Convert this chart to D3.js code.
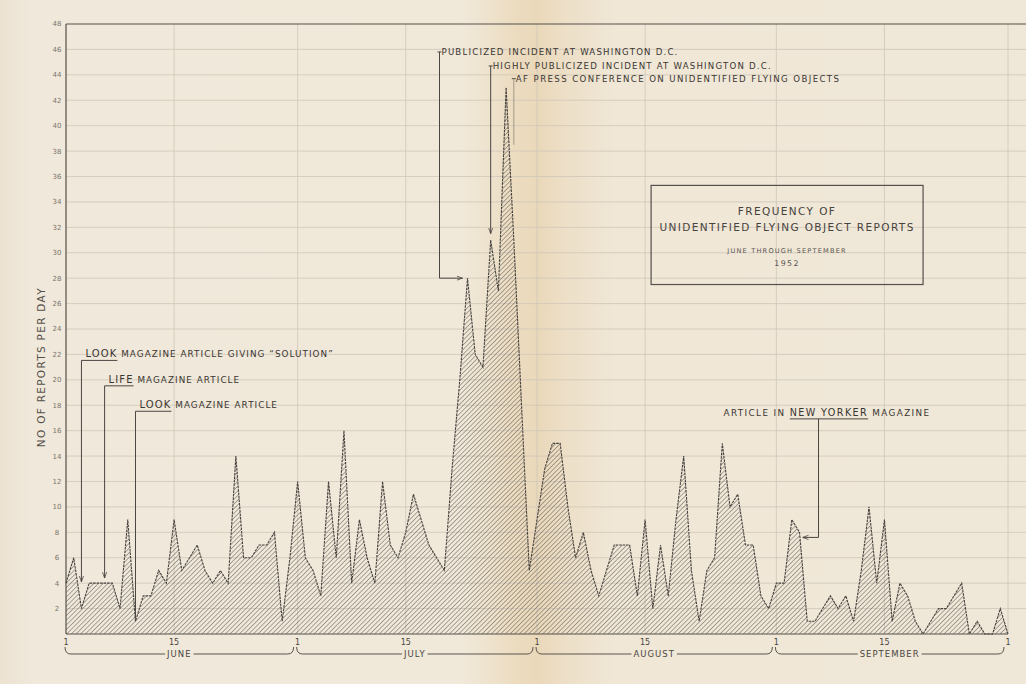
<!DOCTYPE html>
<html>
<head>
<meta charset="utf-8">
<script src="https://cdn.jsdelivr.net/npm/d3@7"></script>
<style>
  html, body { margin: 0; padding: 0; background: #efe6d6; }
  svg { display: block; }
  text { font-family: "DejaVu Sans", "Liberation Sans", sans-serif; fill: #3a3632; }
</style>
</head>
<body>
<svg id="chart" width="1026" height="684"></svg>
<script>
// ---------------- DATA (reports per day, 1952) ----------------
const juneCounts      = [4,6,2,4,4,4,4,2,9,1,3,3,5,4,9,5,6,7,5,4,5,4,14,6,6,7,7,8,1,6];
const julyCounts      = [12,6,5,3,12,6,16,4,9,6,4,12,7,6,8,11,9,7,6,5,13,20,28,22,21,31,27,43,31,18,5];
const augustCounts    = [9,13,15,15,10,6,8,5,3,5,7,7,7,3,9,2,7,3,9,14,5,1,5,6,15,10,11,7,7,3,2];
const septemberCounts = [4,4,9,8,1,1,2,3,2,3,1,5,10,4,9,1,4,3,1,0,1,2,2,3,4,0,1,0,0,2];
const octoberCounts   = [0];

const monthNames  = ["JUNE", "JULY", "AUGUST", "SEPTEMBER"];
const monthStarts = ["1952-06-01", "1952-07-01", "1952-08-01", "1952-09-01", "1952-10-01"];
const tickDays    = [1, 15];
const yTicks      = d3.range(2, 49, 2);

const titleLines  = ["FREQUENCY OF", "UNIDENTIFIED FLYING OBJECT REPORTS"];
const subtitleLines = ["JUNE THROUGH SEPTEMBER", "1952"];
const yTitle = "NO OF REPORTS PER DAY";

// event annotations: date pointed at, label level and tip level (in reports/day)
const sideNotes = [
  { date: "1952-06-03", lead: "LOOK", rest: " MAGAZINE ARTICLE GIVING \u201CSOLUTION\u201D", labelAt: 22, tipAt: 4.1, arrow: true },
  { date: "1952-06-06", lead: "LIFE", rest: " MAGAZINE ARTICLE", labelAt: 20, tipAt: 4.4, arrow: true },
  { date: "1952-06-10", lead: "LOOK", rest: " MAGAZINE ARTICLE", labelAt: 18, tipAt: 1.2, arrow: false }
];
const dcNotes = [
  { date: "1952-07-23", text: "PUBLICIZED INCIDENT AT WASHINGTON D.C.", labelAt: 45.8, tipAt: 28, kind: "elbow" },
  { date: "1952-07-26", text: "HIGHLY PUBLICIZED INCIDENT AT WASHINGTON D.C.", labelAt: 44.7, tipAt: 31.5, kind: "down" },
  { date: "1952-07-29", text: "AF PRESS CONFERENCE ON UNIDENTIFIED FLYING OBJECTS", labelAt: 43.7, tipAt: 38.5, kind: "plain" }
];
const yorkerNote = { date: "1952-09-04", before: "ARTICLE IN ", lead: "NEW YORKER", rest: " MAGAZINE", labelAt: 17.4, tipAt: 7.6 };

// ---------------- BUILD ----------------
const parse = d3.utcParse("%Y-%m-%d");
const monthSeries = [juneCounts, julyCounts, augustCounts, septemberCounts, octoberCounts];
const series = [];
monthSeries.forEach((arr, m) => {
  const start = parse(monthStarts[m]);
  arr.forEach((v, i) => series.push({ date: d3.utcDay.offset(start, i), value: v }));
});

const W = 1026, H = 684;
const margin = { left: 66, right: 18, top: 24, bottom: 50 };
const svg = d3.select("#chart");

const x = d3.scaleUtc()
  .domain([parse(monthStarts[0]), parse(monthStarts[4])])
  .range([margin.left, W - margin.right]);
const y = d3.scaleLinear().domain([0, 48]).range([H - margin.bottom, margin.top]);

const defs = svg.append("defs");
const bg = defs.append("linearGradient").attr("id", "paper").attr("x1", 0).attr("x2", 1).attr("y1", 0).attr("y2", 0);
[[0, "#ebe2d1"], [0.03, "#f0e8da"], [0.45, "#f0e8d9"], [0.48, "#eee2cc"], [0.5, "#ecdcc0"],
 [0.525, "#ead8ba"], [0.55, "#eddfc7"], [0.6, "#f0e7d7"], [1, "#efe7d7"]]
  .forEach(([o, c]) => bg.append("stop").attr("offset", o).attr("stop-color", c));

const pat = defs.append("pattern").attr("id", "hatch").attr("patternUnits", "userSpaceOnUse")
  .attr("width", 3.3).attr("height", 3.3).attr("patternTransform", "rotate(45)");
pat.append("line").attr("x1", 0).attr("y1", 0).attr("x2", 0).attr("y2", 3.3)
  .attr("stroke", "#5f5a54").attr("stroke-width", 1.0);

const mk = defs.append("marker").attr("id", "arrow").attr("viewBox", "0 0 10 10")
  .attr("refX", 10).attr("refY", 5).attr("markerWidth", 6).attr("markerHeight", 6)
  .attr("orient", "auto-start-reverse").attr("markerUnits", "userSpaceOnUse");
mk.append("path").attr("d", "M0,1.5 L10,5 L0,8.5").attr("fill", "none").attr("stroke", "#4a4642").attr("stroke-width", 1.3);

svg.append("rect").attr("width", W).attr("height", H).attr("fill", "url(#paper)");

// grid
const grid = svg.append("g").attr("stroke", "#cfc7b9").attr("stroke-width", 0.8);
grid.selectAll("line.h").data(yTicks.filter(t => t < 48)).join("line")
  .attr("x1", margin.left).attr("x2", W).attr("y1", d => y(d)).attr("y2", d => y(d));
const gridDates = [];
monthStarts.forEach((s, i) => {
  const st = parse(s);
  tickDays.forEach(dd => { if (i < 4 || dd === 1) gridDates.push(d3.utcDay.offset(st, dd - 1)); });
});
grid.selectAll("line.v").data(gridDates.filter(d => +d > +x.domain()[0])).join("line")
  .attr("x1", d => x(d)).attr("x2", d => x(d)).attr("y1", margin.top).attr("y2", y(0));

// frame
const frame = svg.append("g").attr("stroke", "#55504b").attr("stroke-width", 1.2);
frame.append("line").attr("x1", margin.left).attr("x2", W).attr("y1", y(48)).attr("y2", y(48));
frame.append("line").attr("x1", margin.left).attr("x2", margin.left).attr("y1", y(48)).attr("y2", y(0));
frame.append("line").attr("x1", margin.left).attr("x2", x.range()[1]).attr("y1", y(0)).attr("y2", y(0));

// y tick labels
svg.append("g").selectAll("text").data(yTicks).join("text")
  .attr("x", margin.left - 9).attr("y", d => y(d)).attr("dy", "0.35em")
  .attr("text-anchor", "middle").attr("font-size", 7).style("fill", "#7a746c")
  .text(d => d);

svg.append("text")
  .attr("transform", `translate(45,${y(21)}) rotate(-90)`)
  .attr("text-anchor", "middle").attr("font-size", 10.5).attr("letter-spacing", 1.3)
  .style("fill", "#55504a").text(yTitle);

// area
const area = d3.area().x(d => x(d.date)).y0(y(0)).y1(d => y(d.value));
const line = d3.line().x(d => x(d.date)).y(d => y(d.value));
svg.append("path").datum(series).attr("d", area).attr("fill", "url(#hatch)");
svg.append("path").datum(series).attr("d", line).attr("fill", "none")
  .attr("stroke", "#46423e").attr("stroke-width", 1.1).attr("stroke-dasharray", "2.6,0.9");

// x tick labels
const tickDates = [];
monthStarts.forEach((s, i) => {
  const st = parse(s);
  tickDays.forEach(dd => { if (i < 4 || dd === 1) tickDates.push({ d: d3.utcDay.offset(st, dd - 1), label: dd }); });
});
svg.append("g").selectAll("text").data(tickDates).join("text")
  .attr("x", d => x(d.d)).attr("y", y(0) + 8).attr("dy", "0.35em")
  .attr("text-anchor", "middle").attr("font-size", 8).style("fill", "#4a4642")
  .text(d => d.label);

// month braces
const braceY = y(0) + 20;
monthNames.forEach((name, i) => {
  const x0 = x(parse(monthStarts[i])) - 1;
  const x1 = x(parse(monthStarts[i + 1])) - 4;
  const cx = (x0 + x1) / 2;
  const t = svg.append("text").attr("x", cx).attr("y", braceY).attr("dy", "0.35em")
    .attr("text-anchor", "middle").attr("font-size", 8.5).attr("letter-spacing", 1)
    .style("fill", "#4a4642").text(name);
  const half = t.node().getComputedTextLength() / 2 + 2;
  svg.append("path")
    .attr("d", `M${x0},${braceY - 7} Q${x0},${braceY} ${x0 + 6},${braceY} L${cx - half},${braceY} M${cx + half},${braceY} L${x1 - 6},${braceY} Q${x1},${braceY} ${x1},${braceY - 7}`)
    .attr("fill", "none").attr("stroke", "#5a554f").attr("stroke-width", 1);
});

// side annotations (June)
const ann = svg.append("g");
sideNotes.forEach(n => {
  const lx = x(parse(n.date));
  const ly = y(n.labelAt) + 3;
  const t = ann.append("text").attr("x", lx + 4).attr("y", ly).attr("font-size", 8.8).attr("letter-spacing", 1.05);
  t.append("tspan").attr("font-size", 10).attr("letter-spacing", 1.1).text(n.lead);
  t.append("tspan").text(n.rest);
  const leadW = t.node().getSubStringLength(0, n.lead.length);
  ann.append("path")
    .attr("d", `M${lx + 4 + leadW},${ly + 3} L${lx},${ly + 3} L${lx},${y(n.tipAt)}`)
    .attr("fill", "none").attr("stroke", "#4a4642").attr("stroke-width", 1)
    .attr("marker-end", n.arrow ? "url(#arrow)" : null);
});

// Washington annotations
dcNotes.forEach(n => {
  const px = x(parse(n.date));
  const ly = y(n.labelAt);
  const vx = n.kind === "elbow" ? px - 28 : px;
  ann.append("text").attr("x", vx + 2).attr("y", ly).attr("dy", "0.35em")
    .attr("font-size", 8.6).attr("letter-spacing", n.kind === "plain" ? 1.4 : 1.2).text(n.text);
  ann.append("line").attr("x1", vx - 2).attr("x2", vx + 2).attr("y1", ly).attr("y2", ly)
    .attr("stroke", "#4a4642").attr("stroke-width", 1);
  let d;
  if (n.kind === "elbow") d = `M${vx},${ly} L${vx},${y(n.tipAt)} L${px - 5},${y(n.tipAt)}`;
  else d = `M${vx},${ly} L${vx},${y(n.tipAt)}`;
  ann.append("path").attr("d", d).attr("fill", "none")
    .attr("stroke", n.kind === "plain" ? "#a0978c" : "#4a4642").attr("stroke-width", 1)
    .attr("marker-end", n.kind === "plain" ? null : "url(#arrow)");
});

// New Yorker annotation
{
  const n = yorkerNote;
  const px = x(parse(n.date));
  const vx = px + 19;
  const ly = y(n.labelAt) + 3;
  const tx = vx - 95;
  const t = ann.append("text").attr("x", tx).attr("y", ly).attr("font-size", 8.8).attr("letter-spacing", 1.4);
  t.append("tspan").text(n.before);
  t.append("tspan").attr("font-size", 9.6).attr("letter-spacing", 1.4).text(n.lead);
  t.append("tspan").text(n.rest);
  const s0 = t.node().getSubStringLength(0, n.before.length);
  const s1 = t.node().getSubStringLength(n.before.length, n.lead.length);
  ann.append("line").attr("x1", tx + s0).attr("x2", tx + s0 + s1).attr("y1", ly + 3).attr("y2", ly + 3)
    .attr("stroke", "#4a4642").attr("stroke-width", 1);
  ann.append("path").attr("d", `M${vx},${ly + 3} L${vx},${y(n.tipAt)} L${px + 3},${y(n.tipAt)}`)
    .attr("fill", "none").attr("stroke", "#4a4642").attr("stroke-width", 1).attr("marker-end", "url(#arrow)");
}

// title box
const bx0 = x(parse("1952-08-15")) + 6, bx1 = x(parse("1952-09-20")) + 0;
const by0 = y(35.3), by1 = y(27.5);
svg.append("rect").attr("x", bx0).attr("y", by0).attr("width", bx1 - bx0).attr("height", by1 - by0)
  .attr("fill", "none").attr("stroke", "#55504b").attr("stroke-width", 1.2);
const bcx = (bx0 + bx1) / 2;
svg.append("g").selectAll("text").data(titleLines).join("text")
  .attr("x", bcx).attr("y", (d, i) => by0 + 26 + i * 16).attr("dy", "0.35em")
  .attr("text-anchor", "middle").attr("font-size", 10.5).attr("letter-spacing", 1.4)
  .style("fill", "#46423e").text(d => d);
svg.append("g").selectAll("text").data(subtitleLines).join("text")
  .attr("x", bcx).attr("y", (d, i) => by0 + 65 + i * 13).attr("dy", "0.35em")
  .attr("text-anchor", "middle").attr("font-size", (d, i) => i === 0 ? 6.6 : 7.8)
  .attr("letter-spacing", (d, i) => i === 0 ? 1.2 : 1.4)
  .style("fill", "#5a554f").text(d => d);
</script>
</body>
</html>
